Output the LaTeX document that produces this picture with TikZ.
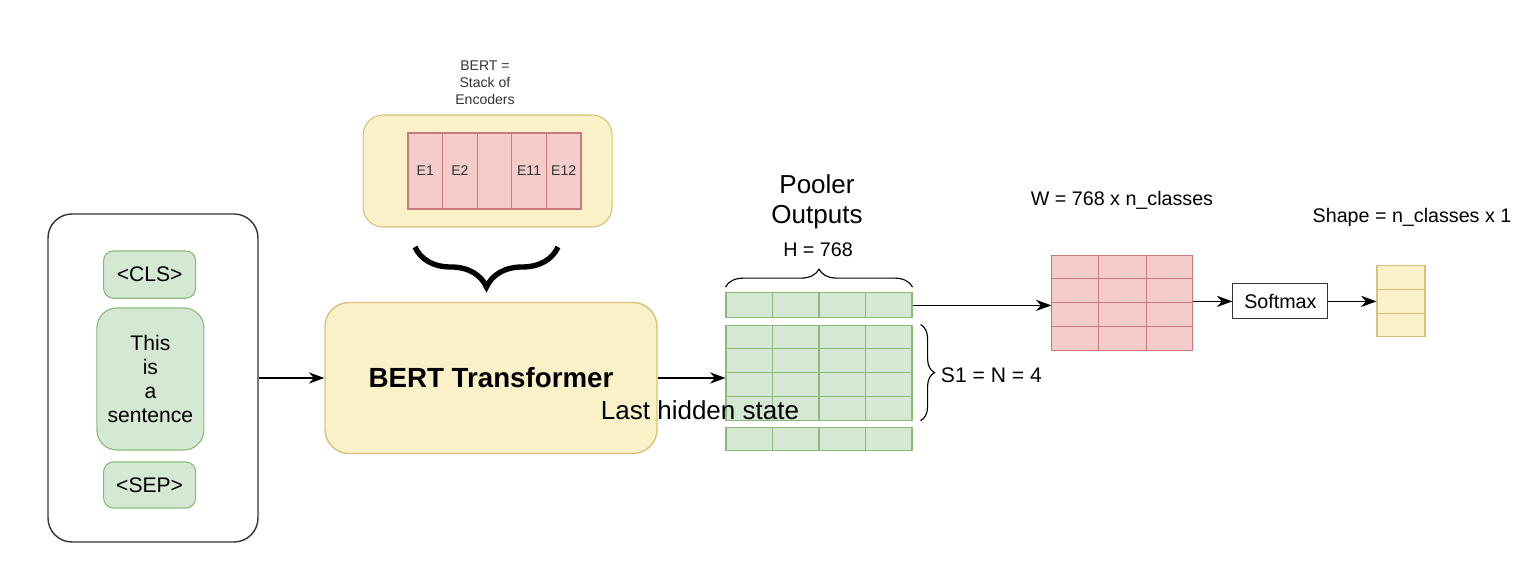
\documentclass[tikz,border=0pt]{standalone}
\usepackage{fontspec}
\setmainfont{Liberation Sans}
\usetikzlibrary{calc, arrows.meta, positioning, decorations.pathreplacing}

\definecolor{greenfill}{HTML}{D5E8D4}
\definecolor{greenline}{HTML}{8DBA78}
\definecolor{redfill}{HTML}{F4CCCC}
\definecolor{redline}{HTML}{C77A78}
\definecolor{yellowfill}{HTML}{FBF1C8}
\definecolor{yellowline}{HTML}{D6C27A}

\begin{document}
\begin{tikzpicture}[
    font=\fontsize{14}{17}\selectfont,
    >={Stealth[length=11pt, width=8pt]},
    link/.style={->, line width=0.8pt},
    token/.style={draw=greenline, fill=greenfill, line width=0.8pt, rounded corners=7pt,
        minimum width=2.3cm, inner sep=0pt, align=center, font=\fontsize{15}{17}\selectfont},
    cells/.style={draw=#1line, fill=#1fill, line width=0.8pt, inner sep=0pt},
    gridline/.style={draw=#1line, line width=0.8pt},
    bigtext/.style={font=\fontsize{18.5}{21}\selectfont, align=center},
    smalltext/.style={font=\fontsize{10}{12}\selectfont, align=center, text=black!80},
]
    \useasboundingbox (0, 0) rectangle (38.35, 14.325);

    % input sequence
    \node[draw=black!80, fill=white, line width=1pt, rounded corners=0.6cm,
        minimum width=5.25cm, minimum height=8.2cm] (input) at (3.825, 4.875) {};
    \node[token, minimum height=1.18cm] (cls) at (3.74, 7.46) {<CLS>};
    \node[token, minimum width=2.675cm, minimum height=3.55cm, rounded corners=0.5cm] (sent) at (3.76, 4.85) {This\\is\\a\\sentence};
    \node[token, minimum height=1.15cm] (sep) at (3.74, 2.2) {<SEP>};

    % encoder
    \node[draw=yellowline, fill=yellowfill, line width=1pt, rounded corners=0.6cm,
        minimum width=8.3cm, minimum height=3.775cm,
        font=\fontsize{19.7}{22}\selectfont\bfseries] (bert) at (12.275, 4.875) {BERT Transformer};
    \draw[link] (input.east) -- (input.east -| bert.west);

    % stack of encoders
    \node[smalltext] (stacklabel) at (12.125, 12.25) {BERT =\\Stack of\\Encoders};
    \node[draw=yellowline, fill=yellowfill, line width=0.8pt, rounded corners=0.5cm,
        minimum width=6.225cm, minimum height=2.8cm] (panel) at (12.19, 10.05) {};
    \foreach \lbl [count=\i] in {E1, E2, {}, E11, E12}
        \node[cells=red, minimum width=0.865cm, minimum height=1.9cm, smalltext] (enc\i)
            at ({10.2 + 0.865*(\i - 0.5)}, 10.05) {\lbl};
    \draw[decorate, decoration={brace, amplitude=1cm, aspect=0.5}, line width=3.8pt]
        (13.95, 8.15) -- (10.375, 8.15);

    % outputs of the encoder
    \node[cells=green, minimum width=4.65cm, minimum height=0.625cm] (pooler) at (20.475, 6.69) {};
    \node[cells=green, minimum width=4.65cm, minimum height=2.375cm] (hidden) at (20.475, 5.01) {};
    \node[cells=green, minimum width=4.65cm, minimum height=0.575cm] (lastrow) at (20.475, 3.36) {};
    \foreach \m in {pooler, hidden, lastrow}
        \foreach \c in {1, 2, 3}
            \draw[gridline=green] ($(\m.north west)!\c/4!(\m.north east)$) -- ($(\m.south west)!\c/4!(\m.south east)$);
    \foreach \r in {1, 2, 3}
        \draw[gridline=green] ($(hidden.north west)!\r/4!(hidden.south west)$) -- ($(hidden.north east)!\r/4!(hidden.south east)$);

    \draw[link] (bert.east) -- (bert.east -| hidden.west);
    \node[bigtext] (lasthidden) at (17.5, 4.075) {Last hidden state};

    \draw[decorate, decoration={brace, amplitude=0.45cm}, line width=0.8pt]
        (pooler.north west) ++(0, 0.13) -- ($(pooler.north east) + (0, 0.13)$);
    \node (hsize) at (20.45, 8.075) {H = 768};
    \node[bigtext] (poolerlabel) at (20.425, 9.275) {Pooler\\Outputs};

    \draw[decorate, decoration={brace, amplitude=0.35cm}, line width=0.8pt]
        ($(hidden.north east) + (0.2, 0)$) -- ($(hidden.south east) + (0.2, 0)$);
    \node[anchor=west, font=\fontsize{15}{17}\selectfont] (seqlen) at (23.4, 4.95) {S1 = N = 4};

    % classifier head
    \node[cells=red, minimum width=3.525cm, minimum height=2.375cm] (weights) at (28.06, 6.76) {};
    \foreach \c in {1, 2}
        \draw[gridline=red] ($(weights.north west)!\c/3!(weights.north east)$) -- ($(weights.south west)!\c/3!(weights.south east)$);
    \foreach \r in {1, 2, 3}
        \draw[gridline=red] ($(weights.north west)!\r/4!(weights.south west)$) -- ($(weights.north east)!\r/4!(weights.south east)$);
    \node (wlabel) at (28.05, 9.325) {W = 768 x n\_classes};
    \draw[link] (pooler.east) -- (pooler.east -| weights.west);

    \node[draw=black!80, fill=white, line width=0.8pt, minimum width=2.375cm, minimum height=0.875cm] (softmax) at (32.01, 6.79) {Softmax};
    \draw[link] (weights.east |- softmax.west) -- (softmax.west);

    \node[cells=yellow, minimum width=1.2cm, minimum height=1.775cm] (probs) at (35.025, 6.79) {};
    \foreach \r in {1, 2}
        \draw[gridline=yellow] ($(probs.north west)!\r/3!(probs.south west)$) -- ($(probs.north east)!\r/3!(probs.south east)$);
    \draw[link] (softmax.east) -- (probs.west);
    \node (shapelabel) at (35.3, 8.9) {Shape = n\_classes x 1};
\end{tikzpicture}
\end{document}
